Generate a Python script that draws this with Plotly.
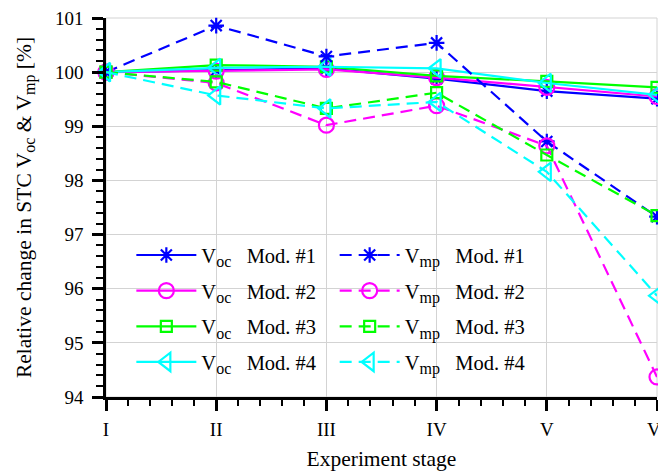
import plotly.graph_objects as go

stages = ["I", "II", "III", "IV", "V", "VI"]
x_pos = [0, 1, 2, 3, 4, 5]

voc_mod1 = [100.0, 100.03, 100.07, 99.88, 99.65, 99.51]
voc_mod2 = [100.0, 100.02, 100.05, 99.90, 99.72, 99.55]
voc_mod3 = [100.0, 100.13, 100.10, 99.93, 99.83, 99.72]
voc_mod4 = [100.0, 100.08, 100.10, 100.07, 99.80, 99.58]

vmp_mod1 = [100.0, 100.86, 100.29, 100.54, 98.72, 97.33]
vmp_mod2 = [100.0, 99.80, 99.02, 99.38, 98.64, 94.37]
vmp_mod3 = [100.0, 99.82, 99.33, 99.62, 98.47, 97.35]
vmp_mod4 = [100.0, 99.57, 99.33, 99.45, 98.16, 95.87]

colors = ["#0000ff", "#ff00ff", "#00ff00", "#00ffff"]
symbols = ["asterisk-open", "circle-open", "square-open", "triangle-left-open"]
sizes = [13, 15, 11, 16]

FONT = "Liberation Serif"
SUB = '<sub><span style="font-size:16px">{}</span></sub>'
fig = go.Figure()

voc = [voc_mod1, voc_mod2, voc_mod3, voc_mod4]
vmp = [vmp_mod1, vmp_mod2, vmp_mod3, vmp_mod4]

for i in range(4):
    fig.add_trace(go.Scatter(
        x=x_pos, y=voc[i], mode="lines+markers",
        name="V" + SUB.format("oc") + f"   Mod. #{i+1}",
        line=dict(color=colors[i], width=2.2),
        marker=dict(symbol=symbols[i], size=sizes[i], color=colors[i],
                    line=dict(color=colors[i], width=2.2)),
        legend="legend", legendgroup=f"voc{i}", cliponaxis=False,
    ))
for i in range(4):
    fig.add_trace(go.Scatter(
        x=x_pos, y=vmp[i], mode="lines+markers",
        name="V" + SUB.format("mp") + f"   Mod. #{i+1}",
        line=dict(color=colors[i], width=2.2, dash="12px,7px"),
        marker=dict(symbol=symbols[i], size=sizes[i], color=colors[i],
                    line=dict(color=colors[i], width=2.2)),
        legend="legend2", legendgroup=f"vmp{i}", cliponaxis=False,
    ))

leg_common = dict(
    font=dict(family=FONT, size=20.5, color="black"),
    bgcolor="rgba(0,0,0,0)", borderwidth=0,
    itemwidth=60, tracegroupgap=6,
    xanchor="left", yanchor="top",
)

fig.update_layout(
    width=658, height=463,
    margin=dict(l=98, r=9, t=10, b=74, autoexpand=False),
    plot_bgcolor="white", paper_bgcolor="white",
    font=dict(family=FONT, size=19, color="black"),
    showlegend=True,
    legend=dict(x=0.046, y=0.427, **leg_common),
    legend2=dict(x=0.415, y=0.427, **leg_common),
    xaxis=dict(
        range=[0, 5], tickvals=x_pos, ticktext=stages,
        showgrid=True, gridcolor="#d3d3d3", gridwidth=1,
        showline=True, linecolor="black", linewidth=2.5,
        ticks="outside", ticklen=11, tickwidth=2.5, tickcolor="black",
        minor=dict(dtick=0.2, tick0=0, ticks="outside", ticklen=6, tickwidth=2, tickcolor="black", showgrid=False),
        zeroline=False, automargin=False, ticklabeloverflow="allow", ticklabelstandoff=2,
        title=dict(text="Experiment stage", font=dict(family=FONT, size=21.5), standoff=17),
        tickfont=dict(family=FONT, size=19),
    ),
    yaxis=dict(
        range=[94, 101], dtick=1, tick0=94,
        showgrid=True, gridcolor="#d3d3d3", gridwidth=1,
        showline=True, linecolor="black", linewidth=2.5,
        ticks="outside", ticklen=11, tickwidth=2.5, tickcolor="black",
        minor=dict(dtick=0.2, tick0=94, ticks="outside", ticklen=7, tickwidth=2, tickcolor="black", showgrid=False),
        zeroline=False, automargin=False, ticklabeloverflow="allow", ticklabelstandoff=5,
        title=dict(text="Relative change in STC V" + SUB.format("oc") + " & V" + SUB.format("mp") + " [%]",
                   font=dict(family=FONT, size=21.5), standoff=18),
        tickfont=dict(family=FONT, size=19),
    ),
)

fig.add_shape(type="rect", xref="paper", yref="paper", x0=0, y0=0, x1=1, y1=1,
              line=dict(color="#d3d3d3", width=1), layer="below")

fig.write_html("out.html")
